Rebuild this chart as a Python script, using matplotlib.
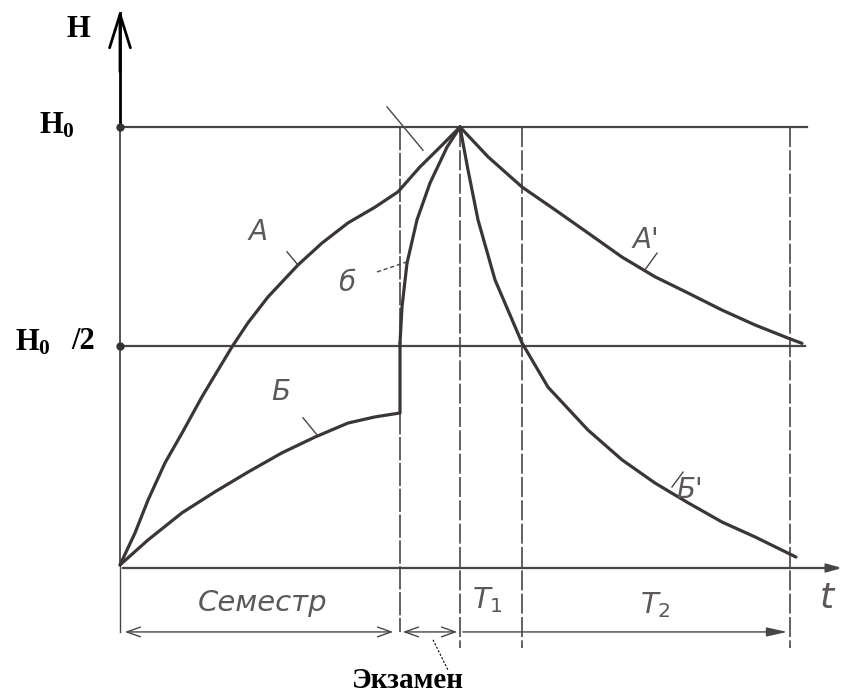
import matplotlib.pyplot as plt
from matplotlib.patches import FancyArrowPatch

plt.rcParams['mathtext.fontset'] = 'custom'
plt.rcParams['mathtext.bf'] = 'Liberation Serif:bold'
plt.rcParams['mathtext.rm'] = 'Liberation Serif'

# time axis (arbitrary units), H in % of H0
t_sem = 28.0      # end of semester
t_peak = 34.0     # exam
t_T1 = 40.2       # end of T1
t_T2 = 67.0       # end of T2
H0 = 100.0

# curve A (systematic work during semester, then exam)
a_t = [0, 1.5, 2.8, 4.5, 6.2, 8.2, 9.8, 11.2, 12.8, 14.8, 17.8, 20.2, 22.8, 25.5,
       27.8, 30.0, 32.0, 34.0]
a_h = [0, 7.3, 14.8, 23.3, 30.1, 38.4, 44.5, 49.8, 55.3, 61.2, 68.5, 73.5, 78.1, 81.7,
       85.2, 90.9, 95.4, 100]

# curve B (weak semester work, then cramming)
b_t = [0, 2.8, 6.2, 9.5, 12.8, 16.2, 19.5, 22.8, 25.5, 28.0, 28.0]
b_h = [0, 5.7, 11.9, 16.7, 21.2, 25.6, 29.2, 32.4, 33.8, 34.7, 50.7]
bb_t = [28.0, 28.2, 28.7, 29.7, 31.0, 32.7, 33.8, 34.0]
bb_h = [50.7, 58.9, 68.9, 78.8, 87.2, 95.4, 99.3, 100]

# forgetting curves A' and B'
ap_t = [34.0, 36.8, 40.2, 43.5, 46.8, 50.2, 53.5, 56.8, 60.2, 63.5, 66.8, 68.2]
ap_h = [100, 93.2, 86.3, 81.1, 75.8, 70.3, 65.8, 62.1, 58.2, 54.8, 51.8, 50.6]
bp_t = [34.0, 34.8, 35.8, 37.5, 40.2, 42.8, 46.8, 50.2, 53.5, 56.8, 60.2, 63.5, 67.6]
bp_h = [100, 90.2, 78.8, 65.1, 50.7, 40.6, 30.8, 24.0, 18.7, 14.2, 9.8, 6.4, 1.8]

# tangent at the peak
tan_t = [26.7, 30.3]
tan_h = [104.6, 94.7]

# small leader ticks for curve labels
ticks = {
    'A': ([16.7, 17.8], [71.5, 68.5]),
    'Б': ([18.3, 19.7], [33.6, 29.7]),
    "A'": ([53.7, 52.5], [71.2, 67.4]),
    "Б'": ([56.3, 55.2], [21.2, 17.8]),
}
labels = {
    'A': (13.8, 76.0),
    'б': (22.7, 64.4),
    'Б': (16.1, 39.5),
    "A'": (52.6, 74.2),
    "Б'": (57.0, 17.1),
}

line_c = '#3b3636'
grid_c = '#4a4545'
text_c = '#5c5858'

fig = plt.figure(figsize=(8.51, 6.95), dpi=100)
ax = fig.add_axes([0, 0, 1, 1])
ax.set_xlim(-12, 73.1)
ax.set_ylim(-29.7, 129.0)
ax.axis('off')

# horizontal levels
ax.plot([0, 68.7], [H0, H0], color=grid_c, lw=1.6)
ax.plot([0, 68.5], [H0 / 2, H0 / 2], color=grid_c, lw=1.6)
ax.plot([0, 0], [0, H0], color=grid_c, lw=1.3)
ax.plot([0, 0], [H0, 126.0], color='black', lw=2.0)
ax.plot([0, 0], [0, -15.3], color=grid_c, lw=1.0)
ax.plot([0, 0], [H0, H0 / 2], 'o', color='#333', ms=5)

# y axis arrow head
ax.annotate('', xy=(0, 127.4), xytext=(0, 112), zorder=5,
            arrowprops=dict(arrowstyle='->,head_length=2.4,head_width=0.75',
                            color='black', lw=2.0))

# t axis
ax.annotate('', xy=(72.5, -0.7), xytext=(0, -0.7),
            arrowprops=dict(arrowstyle='-|>,head_length=0.9,head_width=0.25',
                            color=grid_c, lw=1.6))

# vertical lines
ax.plot([t_sem, t_sem], [H0, -15.3], color=grid_c, lw=1.2, dashes=(14, 1.5))
for tv in [t_peak, t_T1, t_T2]:
    ax.plot([tv, tv], [H0, -19.0], color=grid_c, lw=1.2, dashes=(12, 2))

# curves
for xs, ys in [(a_t, a_h), (b_t, b_h), (bb_t, bb_h), (ap_t, ap_h), (bp_t, bp_h)]:
    ax.plot(xs, ys, color=line_c, lw=2.3, solid_capstyle='round', solid_joinstyle='round')
ax.plot(tan_t, tan_h, color=grid_c, lw=1.0)

for k, (xs, ys) in ticks.items():
    ax.plot(xs, ys, color=grid_c, lw=1.0)
ax.plot([25.7, 28.7], [66.9, 69.2], color=grid_c, lw=1.0, dashes=(3, 2))

for k, (x, y) in labels.items():
    ax.text(x, y, k, fontsize=20, style='italic', color=text_c,
            ha='center', va='center', family='DejaVu Sans', fontweight='light')

# dimension arrows
dim_y = -15.3
arr = dict(arrowstyle='<->,head_length=0.7,head_width=0.25', color=grid_c, lw=1.0)
ax.add_patch(FancyArrowPatch((0.2, dim_y), (27.6, dim_y), mutation_scale=14, **arr))
ax.add_patch(FancyArrowPatch((28.0, dim_y), (34.0, dim_y), mutation_scale=14, **arr))
ax.add_patch(FancyArrowPatch((34.0, dim_y), (67.0, dim_y), mutation_scale=14,
                             arrowstyle='-|>,head_length=0.9,head_width=0.2',
                             color=grid_c, lw=1.0))
ax.plot([31.3, 32.8], [-17.1, -24.0], color='black', lw=0.8, dashes=(2, 1.5))

ax.text(14.3, -8.7, 'Семестр', fontsize=21, style='italic', color=text_c,
        ha='center', va='center')
ax.text(36.7, -8.0, r'$T_1$', fontsize=21, color=text_c, ha='center', va='center',
        math_fontfamily='dejavusans')
ax.text(53.5, -9.1, r'$T_2$', fontsize=21, color=text_c, ha='center', va='center',
        math_fontfamily='dejavusans')
ax.text(70.8, -7.5, r'$t$', fontsize=26, color=text_c, ha='center', va='center',
        math_fontfamily='dejavusans')

ax.text(28.8, -26.5, 'Экзамен', fontsize=21, fontweight='bold', family='Liberation Serif',
        ha='center', va='center', color='black')
ax.text(-4.2, 122.2, 'H', fontsize=22, fontweight='bold', family='Liberation Serif',
        ha='center', va='center')
ax.text(-6.3, 100.3, r'$\mathbf{H_0}$', fontsize=22, ha='center', va='center')
ax.text(-8.7, 50.8, r'$\mathbf{H_0}$', fontsize=22, ha='center', va='center')
ax.text(-3.7, 51.0, '/2', fontsize=22, fontweight='bold', family='Liberation Serif',
        ha='center', va='center')

fig.savefig('out.png', dpi=100)
